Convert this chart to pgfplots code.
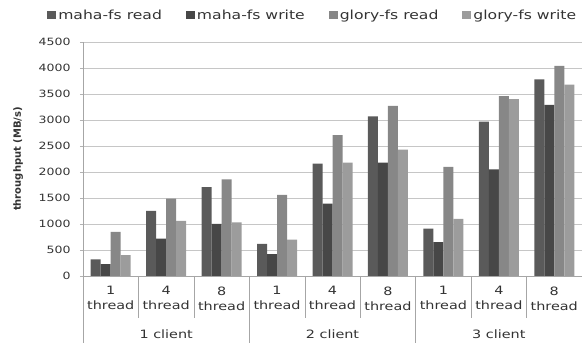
\documentclass[border=0pt]{standalone}
\usepackage{fontspec}
\setmainfont{DejaVu Sans}
\newfontfamily\widefont{DejaVu Sans}[FakeStretch=1.25]
\usepackage{pgfplots}
\pgfplotsset{compat=1.18}
\definecolor{cA}{HTML}{5A5A5A}
\definecolor{cB}{HTML}{474747}
\definecolor{cC}{HTML}{878787}
\definecolor{cD}{HTML}{9C9C9C}
\definecolor{txt}{HTML}{333333}
\begin{document}
\begin{tikzpicture}
\begin{axis}[
  name=ax, scale only axis, width=499pt, height=234pt,
  ybar=0pt, bar width=10pt,
  xmin=-0.5, xmax=8.5, ymin=0, ymax=4500,
  ytick={0,500,...,4500},
  xtick={0,...,8},
  xticklabels={{1\\thread},{4\\thread},{8\\thread},{1\\thread},{4\\thread},{8\\thread},{1\\thread},{4\\thread},{8\\thread}},
  xticklabel style={align=center, font=\widefont\fontsize{11.5}{15}\selectfont, text=txt, yshift=-4pt},
  yticklabel style={font=\widefont\fontsize{10}{12}\selectfont, text=txt, xshift=-6pt},
  /pgf/number format/assume math mode=true,
  /pgf/number format/1000 sep={},
  scaled ticks=false,
  axis lines*=left,
  axis line style={draw=gray!70},
  tick align=outside, major tick length=3pt,
  x tick style={draw=none},
  y tick style={draw=gray!60},
  ymajorgrids, grid style={draw=gray!45, line width=0.8pt},
  ylabel={throughput (MB/s)},
  ylabel style={at={(axis description cs:-0.13,0.5)}, anchor=center, font=\bfseries\fontsize{10}{12}\selectfont, text=txt},
  clip=false,
  legend columns=4,
  legend style={draw=none, fill=none, at={(axis description cs:-0.072,1.115)}, anchor=west, inner sep=0pt,
    font=\widefont\fontsize{12.5}{14}\selectfont, text=txt,
    /tikz/every even column/.append style={column sep=22pt}},
  legend image code/.code={\fill[#1,draw=none] (0pt,-4pt) rectangle (9pt,4pt);},
]
\addplot[fill=cA, draw=none] coordinates {(0,320) (1,1250) (2,1710) (3,620) (4,2160) (5,3070) (6,910) (7,2970) (8,3780)};
\addplot[fill=cB, draw=none] coordinates {(0,230) (1,720) (2,1000) (3,420) (4,1390) (5,2180) (6,650) (7,2050) (8,3290)};
\addplot[fill=cC, draw=none] coordinates {(0,850) (1,1490) (2,1860) (3,1560) (4,2710) (5,3270) (6,2100) (7,3460) (8,4040)};
\addplot[fill=cD, draw=none] coordinates {(0,400) (1,1060) (2,1030) (3,700) (4,2180) (5,2430) (6,1100) (7,3400) (8,3680)};
\legend{maha-fs read, maha-fs write, glory-fs read, glory-fs write}
\draw[gray!70] (axis cs:0.5,0) -- ([yshift=-42pt]axis cs:0.5,0);
\draw[gray!70] (axis cs:1.5,0) -- ([yshift=-42pt]axis cs:1.5,0);
\draw[gray!70] (axis cs:3.5,0) -- ([yshift=-42pt]axis cs:3.5,0);
\draw[gray!70] (axis cs:4.5,0) -- ([yshift=-42pt]axis cs:4.5,0);
\draw[gray!70] (axis cs:6.5,0) -- ([yshift=-42pt]axis cs:6.5,0);
\draw[gray!70] (axis cs:7.5,0) -- ([yshift=-42pt]axis cs:7.5,0);
\draw[gray!70] (axis cs:-0.5,0) -- ([yshift=-67pt]axis cs:-0.5,0);
\draw[gray!70] (axis cs:2.5,0) -- ([yshift=-67pt]axis cs:2.5,0);
\draw[gray!70] (axis cs:5.5,0) -- ([yshift=-67pt]axis cs:5.5,0);
\draw[gray!70] (axis cs:8.5,0) -- ([yshift=-67pt]axis cs:8.5,0);
\node[font=\widefont\fontsize{11.5}{13}\selectfont, text=txt] at ([yshift=-58pt]axis cs:1,0) {1 client};
\node[font=\widefont\fontsize{11.5}{13}\selectfont, text=txt] at ([yshift=-58pt]axis cs:4,0) {2 client};
\node[font=\widefont\fontsize{11.5}{13}\selectfont, text=txt] at ([yshift=-58pt]axis cs:7,0) {3 client};
\end{axis}
\pgfresetboundingbox
\path[use as bounding box] ([xshift=-83pt,yshift=-67pt]ax.south west) rectangle ([yshift=42pt]ax.north east);
\end{tikzpicture}
\end{document}
